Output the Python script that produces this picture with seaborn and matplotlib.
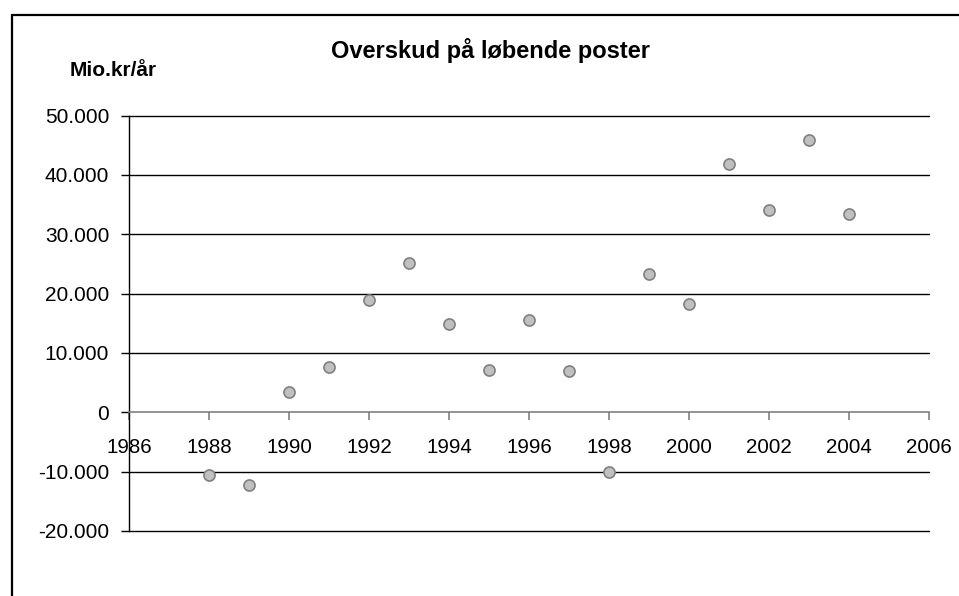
import matplotlib
matplotlib.use("Agg")
import matplotlib.pyplot as plt
from matplotlib.lines import Line2D
from matplotlib.ticker import FuncFormatter
import seaborn as sns
import pandas as pd

# ---- data ----
years = [1988, 1989, 1990, 1991, 1992, 1993, 1994, 1995, 1996, 1997,
         1998, 1999, 2000, 2001, 2002, 2003, 2004]
surplus = [-10500, -12300, 3400, 7600, 19000, 25200, 14800, 7100, 15500, 6900,
           -10000, 23250, 18300, 41900, 34150, 45850, 33400]
title = "Overskud på løbende poster"
unit_label = "Mio.kr/år"
x_ticks = list(range(1986, 2007, 2))
y_ticks = list(range(-20000, 50001, 10000))

df = pd.DataFrame({"year": years, "surplus": surplus})

sns.set_theme(style="white")
plt.rcParams["font.family"] = ["Liberation Sans", "DejaVu Sans"]

W, H = 959, 596
fig = plt.figure(figsize=(W / 100, H / 100), dpi=100)
fig.patch.set_facecolor("white")

left, right, top, bottom = 129, 929, 115.5, 531
ax = fig.add_axes([left / W, 1 - bottom / H, (right - left) / W, (bottom - top) / H])
ax.set_facecolor("white")

ax.set_xlim(1986, 2006)
ax.set_ylim(-20000, 50000)
ax.set_xticks(x_ticks)
ax.set_yticks(y_ticks)

# gridlines
for yv in y_ticks:
    if yv != 0:
        ax.axhline(yv, color="#000000", lw=1.0, zorder=1, clip_on=False)

sns.scatterplot(data=df, x="year", y="surplus", ax=ax, s=64,
                color="#c0c0c0", edgecolor="#808080", linewidth=1.2,
                zorder=5, clip_on=False, legend=False)

ax.set_xlabel("")
ax.set_ylabel("")

for s in ["top", "right"]:
    ax.spines[s].set_visible(False)
ax.spines["left"].set_color("#000000")
ax.spines["left"].set_linewidth(1.0)
ax.spines["bottom"].set_position(("data", 0))
ax.spines["bottom"].set_color("#808080")
ax.spines["bottom"].set_linewidth(1.2)

ax.yaxis.set_major_formatter(FuncFormatter(lambda v, p: f"{v:,.0f}".replace(",", ".")))
ax.tick_params(axis="y", direction="out", length=5.8, width=1.0, color="#000000",
               pad=8.5, labelsize=15, labelcolor="#000000", left=True)
ax.tick_params(axis="x", direction="out", length=5.8, width=1.2, color="#808080",
               pad=12.5, labelsize=14.8, labelcolor="#000000", bottom=True)

# titles
fig.text(490 / W, 1 - 58 / H, title, ha="center", va="baseline",
         fontsize=17, fontweight="bold", color="#000000")
fig.text(70 / W, 1 - 76 / H, unit_label, ha="left", va="baseline",
         fontsize=15, fontweight="bold", color="#000000")

# outer frame (left and top edges visible)
fx = 11.7 / W
fy = 1 - 14.7 / H
fig.add_artist(Line2D([fx, fx], [0, fy], transform=fig.transFigure, color="black", lw=1.6))
fig.add_artist(Line2D([fx, 1], [fy, fy], transform=fig.transFigure, color="black", lw=1.6))

fig.savefig("out.png", dpi=100, facecolor="white")
